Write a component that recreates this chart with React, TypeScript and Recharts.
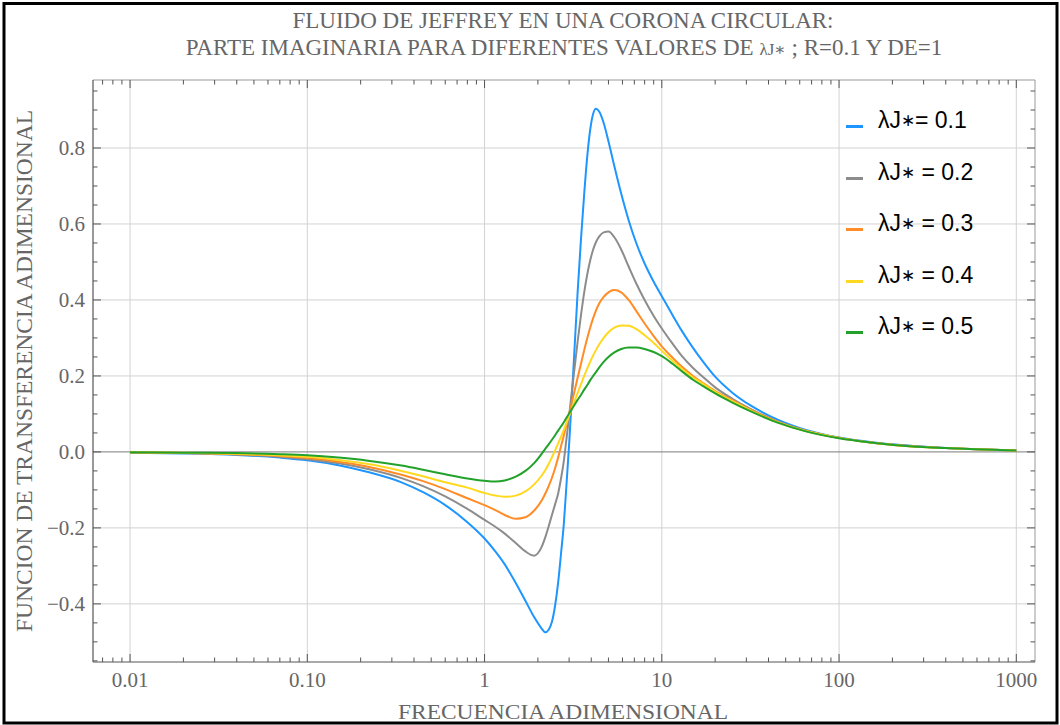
import React from 'react';
import { LineChart, Line, XAxis, YAxis, ReferenceLine, Legend } from 'recharts';

// Frequencies (adimensional) where the curves are sampled
const FREQ = [0.01, 0.02, 0.04, 0.07, 0.1, 0.15, 0.22, 0.34, 0.45, 0.6, 0.8, 1.0, 1.15, 1.3, 1.5, 1.7, 1.9, 2.1, 2.2, 2.3, 2.4, 2.5, 2.6, 2.7, 2.8, 2.9, 3.0, 3.1, 3.2, 3.35, 3.5, 3.65, 3.8, 3.95, 4.1, 4.25, 4.45, 4.7, 5.0, 5.4, 5.9, 6.5, 7.2, 8.0, 9.0, 10, 11.5, 13, 15, 17, 20, 25, 32, 45, 65, 100, 150, 250, 400, 600, 1000];

// λJ* = 0.1
const L01 = [-0.002, -0.004, -0.008, -0.015, -0.022, -0.035, -0.053, -0.080, -0.106, -0.140, -0.185, -0.228, -0.262, -0.296, -0.345, -0.392, -0.434, -0.465, -0.475, -0.468, -0.447, -0.405, -0.345, -0.268, -0.190, -0.085, 0.020, 0.135, 0.250, 0.420, 0.560, 0.680, 0.780, 0.850, 0.890, 0.903, 0.895, 0.866, 0.818, 0.752, 0.680, 0.610, 0.548, 0.496, 0.448, 0.410, 0.360, 0.318, 0.274, 0.239, 0.198, 0.156, 0.121, 0.085, 0.058, 0.038, 0.026, 0.016, 0.010, 0.007, 0.004];
// λJ* = 0.2
const L02 = [-0.002, -0.003, -0.007, -0.013, -0.019, -0.030, -0.045, -0.069, -0.090, -0.117, -0.150, -0.179, -0.197, -0.215, -0.240, -0.262, -0.273, -0.250, -0.225, -0.196, -0.166, -0.138, -0.110, -0.070, -0.024, 0.035, 0.095, 0.155, 0.210, 0.290, 0.360, 0.420, 0.468, 0.505, 0.533, 0.552, 0.568, 0.578, 0.580, 0.565, 0.533, 0.488, 0.442, 0.400, 0.358, 0.325, 0.285, 0.252, 0.221, 0.198, 0.170, 0.140, 0.112, 0.080, 0.056, 0.037, 0.025, 0.016, 0.010, 0.007, 0.004];
// λJ* = 0.3
const L03 = [-0.001, -0.003, -0.006, -0.011, -0.016, -0.026, -0.039, -0.060, -0.077, -0.098, -0.122, -0.140, -0.153, -0.166, -0.176, -0.172, -0.155, -0.128, -0.110, -0.090, -0.068, -0.043, -0.015, 0.015, 0.043, 0.072, 0.100, 0.128, 0.155, 0.195, 0.232, 0.268, 0.300, 0.328, 0.352, 0.372, 0.392, 0.408, 0.420, 0.426, 0.420, 0.400, 0.370, 0.338, 0.305, 0.278, 0.248, 0.224, 0.200, 0.182, 0.160, 0.136, 0.110, 0.079, 0.055, 0.037, 0.025, 0.015, 0.010, 0.007, 0.004];
// λJ* = 0.4
const L04 = [-0.001, -0.002, -0.005, -0.009, -0.013, -0.021, -0.032, -0.050, -0.064, -0.080, -0.094, -0.108, -0.115, -0.118, -0.115, -0.104, -0.086, -0.062, -0.048, -0.032, -0.014, 0.004, 0.022, 0.040, 0.058, 0.077, 0.095, 0.113, 0.130, 0.155, 0.178, 0.200, 0.220, 0.238, 0.254, 0.268, 0.284, 0.300, 0.315, 0.327, 0.333, 0.332, 0.323, 0.307, 0.287, 0.266, 0.240, 0.218, 0.196, 0.180, 0.158, 0.134, 0.108, 0.078, 0.055, 0.037, 0.025, 0.015, 0.010, 0.007, 0.004];
// λJ* = 0.5
const L05 = [-0.001, -0.002, -0.003, -0.006, -0.009, -0.015, -0.023, -0.036, -0.047, -0.059, -0.070, -0.076, -0.078, -0.075, -0.065, -0.050, -0.030, -0.005, 0.008, 0.020, 0.032, 0.044, 0.056, 0.067, 0.078, 0.090, 0.101, 0.112, 0.122, 0.137, 0.150, 0.164, 0.176, 0.189, 0.200, 0.210, 0.223, 0.237, 0.250, 0.262, 0.271, 0.275, 0.275, 0.271, 0.263, 0.252, 0.232, 0.212, 0.190, 0.174, 0.154, 0.130, 0.106, 0.077, 0.054, 0.036, 0.025, 0.015, 0.010, 0.007, 0.004];

const SERIES_KEYS = ['l01', 'l02', 'l03', 'l04', 'l05'];
const SERIES_NAMES = ['λJ∗= 0.1', 'λJ∗ = 0.2', 'λJ∗ = 0.3', 'λJ∗ = 0.4', 'λJ∗ = 0.5'];
const SERIES_VALUES = [L01, L02, L03, L04, L05];
const SERIES_COLORS = ['#1e96ff', '#8c8c8c', '#ff8c26', '#ffd91f', '#22a22a'];

const X_MAJOR = [0.01, 0.1, 1, 10, 100, 1000];
const X_MAJOR_LABELS = ['0.01', '0.10', '1', '10', '100', '1000'];
const X_MINOR = [0.007, 0.008, 0.009, 0.02, 0.03, 0.04, 0.05, 0.06, 0.07, 0.08, 0.09, 0.2, 0.3, 0.4, 0.5, 0.6, 0.7, 0.8, 0.9, 2, 3, 4, 5, 6, 7, 8, 9, 20, 30, 40, 50, 60, 70, 80, 90, 200, 300, 400, 500, 600, 700, 800, 900];
const Y_MAJOR = [-0.4, -0.2, 0, 0.2, 0.4, 0.6, 0.8];
const Y_MAJOR_LABELS = ['−0.4', '−0.2', '0.0', '0.2', '0.4', '0.6', '0.8'];
const Y_MINOR = [-0.55, -0.5, -0.45, -0.35, -0.3, -0.25, -0.15, -0.1, -0.05, 0.05, 0.1, 0.15, 0.25, 0.3, 0.35, 0.45, 0.5, 0.55, 0.65, 0.7, 0.75, 0.85, 0.9, 0.95];

const X_DOMAIN = [0.00618, 1275];
const Y_DOMAIN = [-0.553, 0.979];

const TITLE_1 = 'FLUIDO DE JEFFREY EN UNA CORONA CIRCULAR:';
const TITLE_2A = 'PARTE  IMAGINARIA PARA DIFERENTES VALORES DE ';
const TITLE_2B = 'λJ∗';
const TITLE_2C = ' ; R=0.1 Y DE=1';
const X_LABEL = 'FRECUENCIA ADIMENSIONAL';
const Y_LABEL = 'FUNCION DE TRANSFERENCIA ADIMENSIONAL';

const data = FREQ.map((f, i) => {
  const row: Record<string, number> = { f };
  SERIES_KEYS.forEach((k, s) => {
    row[k] = SERIES_VALUES[s][i];
  });
  return row;
});

const X_TICKS = [...X_MAJOR, ...X_MINOR].sort((a, b) => a - b);
const Y_TICKS = [...Y_MAJOR, ...Y_MINOR].sort((a, b) => a - b);

const SERIF = '"Liberation Serif", "DejaVu Serif", serif';
const SANS = '"Liberation Sans", Arial, sans-serif';
const TICK_COLOR = '#555';
const LABEL_COLOR = '#666';

const findIdx = (arr: number[], v: number) => arr.findIndex((m) => Math.abs(m - v) <= Math.abs(m) * 1e-6 + 1e-9);

const makeXTick = (side: 'bottom' | 'top', withLabel: boolean) => (props: any) => {
  const { x, y, payload } = props;
  const idx = findIdx(X_MAJOR, payload.value);
  const len = idx >= 0 ? 8 : 4.5;
  const dir = side === 'bottom' ? -1 : 1;
  return (
    <g>
      <line x1={x} x2={x} y1={y} y2={y + dir * len} stroke={TICK_COLOR} strokeWidth={1} />
      {withLabel && idx >= 0 && (
        <text x={x} y={y + 25} textAnchor="middle" fontFamily={SERIF} fontSize={21} fill={LABEL_COLOR}>
          {X_MAJOR_LABELS[idx]}
        </text>
      )}
    </g>
  );
};

const makeYTick = (side: 'left' | 'right', withLabel: boolean) => (props: any) => {
  const { x, y, payload } = props;
  const idx = findIdx(Y_MAJOR, payload.value);
  const len = idx >= 0 ? 8 : 4.5;
  const dir = side === 'left' ? 1 : -1;
  return (
    <g>
      <line x1={x} x2={x + dir * len} y1={y} y2={y} stroke={TICK_COLOR} strokeWidth={1} />
      {withLabel && idx >= 0 && (
        <text x={x - 8} y={y + 7} textAnchor="end" fontFamily={SERIF} fontSize={21} fill={LABEL_COLOR}>
          {Y_MAJOR_LABELS[idx]}
        </text>
      )}
    </g>
  );
};

const renderName = (name: string) => {
  const parts = name.split('∗');
  return (
    <>
      {parts[0]}
      <span style={{ fontSize: 17, position: 'relative', top: -2 }}>∗</span>
      {parts[1]}
    </>
  );
};

const LegendContent = () => (
  <div style={{ fontFamily: SANS, fontSize: 23, color: '#000' }}>
    {SERIES_NAMES.map((name, i) => (
      <div key={name} style={{ position: 'relative', height: 51.5, whiteSpace: 'nowrap' }}>
        <span
          style={{
            position: 'absolute',
            left: 0,
            top: 21,
            width: 17,
            height: 3,
            background: SERIES_COLORS[i],
          }}
        />
        <span style={{ position: 'absolute', left: 32, top: 1, lineHeight: '30px' }}>{renderName(name)}</span>
      </div>
    ))}
  </div>
);

export default function App() {
  return (
    <div
      style={{
        position: 'absolute',
        left: 0,
        top: 0,
        width: 1060,
        height: 725,
        background: '#fff',
        overflow: 'hidden',
      }}
    >
      <LineChart
        width={1060}
        height={725}
        data={data}
        margin={{ top: 79, right: 24, bottom: 33, left: 33 }}
      >
        {X_MAJOR.map((v) => (
          <ReferenceLine key={'gx' + v} x={v} xAxisId="bottom" yAxisId="left" stroke="#d2d2d2" strokeWidth={1} />
        ))}
        {Y_MAJOR.filter((v) => v !== 0).map((v) => (
          <ReferenceLine key={'gy' + v} y={v} xAxisId="bottom" yAxisId="left" stroke="#d2d2d2" strokeWidth={1} />
        ))}
        <ReferenceLine y={0} xAxisId="bottom" yAxisId="left" stroke="#7a7a7a" strokeWidth={1} />
        <XAxis
          xAxisId="bottom"
          dataKey="f"
          type="number"
          scale="log"
          domain={X_DOMAIN}
          allowDataOverflow
          ticks={X_TICKS}
          interval={0}
          height={30}
          tickSize={0}
          tickMargin={0}
          tickLine={false}
          axisLine={{ stroke: '#555', strokeWidth: 1.2 }}
          tick={makeXTick('bottom', true)}
        />
        <XAxis
          xAxisId="top"
          orientation="top"
          dataKey="f"
          type="number"
          scale="log"
          domain={X_DOMAIN}
          allowDataOverflow
          ticks={X_TICKS}
          interval={0}
          height={1}
          tickSize={0}
          tickMargin={0}
          tickLine={false}
          axisLine={{ stroke: '#999', strokeWidth: 1 }}
          tick={makeXTick('top', false)}
        />
        <YAxis
          yAxisId="left"
          type="number"
          domain={Y_DOMAIN}
          allowDataOverflow
          ticks={Y_TICKS}
          interval={0}
          width={60}
          tickSize={0}
          tickMargin={0}
          tickLine={false}
          axisLine={{ stroke: '#555', strokeWidth: 1.2 }}
          tick={makeYTick('left', true)}
        />
        <YAxis
          yAxisId="right"
          orientation="right"
          type="number"
          domain={Y_DOMAIN}
          allowDataOverflow
          ticks={Y_TICKS}
          interval={0}
          width={1}
          tickSize={0}
          tickMargin={0}
          tickLine={false}
          axisLine={{ stroke: '#999', strokeWidth: 1 }}
          tick={makeYTick('right', false)}
        />
        {SERIES_KEYS.map((k, i) => (
          <Line
            key={k}
            xAxisId="bottom"
            yAxisId="left"
            type="monotone"
            dataKey={k}
            name={SERIES_NAMES[i]}
            stroke={SERIES_COLORS[i]}
            strokeWidth={2}
            dot={false}
            activeDot={false}
            isAnimationActive={false}
          />
        ))}
        <Legend
          layout="horizontal"
          align="center"
          verticalAlign="middle"
          wrapperStyle={{ left: 846, top: 104, width: 190, height: 270 }}
          content={LegendContent}
        />
      </LineChart>
      <svg
        width={1060}
        height={725}
        style={{ position: 'absolute', left: 0, top: 0, pointerEvents: 'none' }}
      >
        <text x={563} y={28} textAnchor="middle" fontFamily={SERIF} fontSize={23} fill={LABEL_COLOR}>
          {TITLE_1}
        </text>
        <text x={564} y={55} textAnchor="middle" fontFamily={SERIF} fontSize={23} fill={LABEL_COLOR}>
          {TITLE_2A}
          <tspan fontSize={17}>{TITLE_2B}</tspan>
          {TITLE_2C}
        </text>
        <text x={398} y={719} fontFamily={SERIF} fontSize={22} fill={LABEL_COLOR} textLength={330} lengthAdjust="spacingAndGlyphs">
          {X_LABEL}
        </text>
        <text
          transform="translate(32, 632) rotate(-90)"
          x={0}
          y={0}
          fontFamily={SERIF}
          fontSize={23}
          fill={LABEL_COLOR}
          textLength={522}
          lengthAdjust="spacingAndGlyphs"
        >
          {Y_LABEL}
        </text>
        <rect x={4} y={3.5} width={1053} height={719.5} fill="none" stroke="#000" strokeWidth={3} />
      </svg>
    </div>
  );
}
